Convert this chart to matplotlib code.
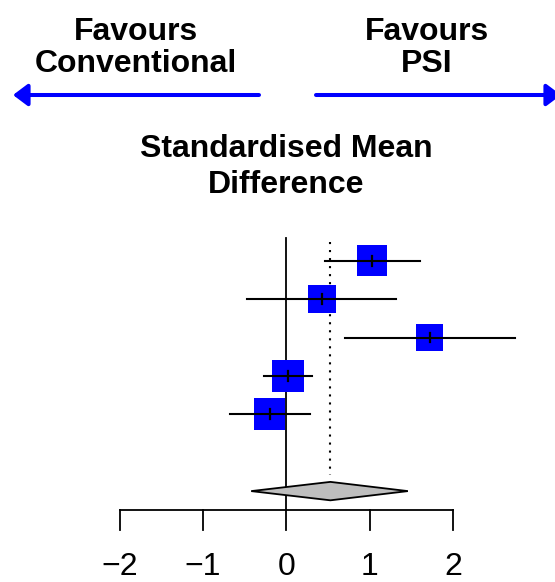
import matplotlib
matplotlib.use("Agg")
import matplotlib.pyplot as plt
import numpy as np

# ---- data ----
smd = [1.03, 0.43, 1.72, 0.02, -0.20]
ci_lo = [0.47, -0.47, 0.71, -0.27, -0.68]
ci_hi = [1.60, 1.32, 2.74, 0.31, 0.28]
weights = [20.9, 17.4, 16.2, 23.2, 22.3]
pooled = 0.53
pooled_lo = -0.42
pooled_hi = 1.46
tick_vals = [-2, -1, 0, 1, 2]
left_label = ["Favours", "Conventional"]
right_label = ["Favours", "PSI"]
title = ["Standardised Mean", "Difference"]

plt.rcParams['font.family'] = ['Liberation Sans', 'DejaVu Sans']

W, H = 555, 582
fig = plt.figure(figsize=(W / 100, H / 100), dpi=100)
ax = fig.add_axes([0, 0, 1, 1])
# x in SMD units, y in row units
x0px, xscale = 286.2, 83.35
y0px, yscale = 260.7, 38.4
ax.set_xlim((0 - x0px) / xscale, (W - x0px) / xscale)
ax.set_ylim((H - y0px) / yscale, (0 - y0px) / yscale)
ax.axis('off')


def px_x(p):
    return (p - x0px) / xscale


def px_y(p):
    return (p - y0px) / yscale


n = len(smd)
rows = np.arange(n)
summary_row = n + 1

# zero line
ax.plot([0, 0], [px_y(238), summary_row + 0.5], color='black', lw=1.3, zorder=1)
# pooled dotted line
ax.plot([pooled, pooled], [px_y(242), summary_row - 0.42], color='black', lw=1.5,
        linestyle=(0, (1, 2.85)), zorder=1)

# squares
wt = np.array(weights)
side_px = np.sqrt(wt / wt.max()) * 32.3
ax.scatter(smd, rows, s=(side_px * 0.72) ** 2, marker='s', color='#0000FF',
           edgecolors='none', zorder=2)
for r, m, lo, hi in zip(rows, smd, ci_lo, ci_hi):
    ax.plot([lo, hi], [r, r], color='black', lw=1.5, zorder=3)
    ax.plot([m, m], [r - 0.13, r + 0.13], color='black', lw=1.6, zorder=3)

# diamond
ax.fill([pooled_lo, pooled, pooled_hi, pooled],
        [summary_row, summary_row - 0.24, summary_row, summary_row + 0.24],
        facecolor='#bebebe', edgecolor='black', lw=1.3, zorder=2)

# x axis
axis_row = summary_row + 0.5
ax.plot([tick_vals[0], tick_vals[-1]], [axis_row, axis_row], color='black', lw=1.3)
for t in tick_vals:
    ax.plot([t, t], [axis_row, axis_row + 0.52], color='black', lw=1.3)
    ax.text(t, px_y(575), f"{t}".replace('-', '\u2212'), ha='center', va='baseline',
            fontsize=23)

# title
for line, base in zip(title, [157, 193]):
    ax.text(px_x(286.5), px_y(base), line, ha='center', va='baseline', fontsize=23,
            fontweight='bold')

# favour labels
for line, base in zip(left_label, [39.5, 71.5]):
    ax.text(px_x(135.5), px_y(base), line, ha='center', va='baseline', fontsize=23,
            fontweight='bold')
for line, base in zip(right_label, [40, 72.5]):
    ax.text(px_x(427), px_y(base), line, ha='center', va='baseline', fontsize=23,
            fontweight='bold')

# arrows
arow = px_y(95)
style = '-|>,head_length=0.4,head_width=0.3'
ax.annotate('', xy=(px_x(13), arow), xytext=(px_x(259), arow),
            arrowprops=dict(arrowstyle=style, color='#0000FF', lw=2.9, mutation_scale=22,
                            shrinkA=0, shrinkB=0, capstyle='round'))
ax.annotate('', xy=(px_x(561), arow), xytext=(px_x(316), arow),
            arrowprops=dict(arrowstyle=style, color='#0000FF', lw=2.9, mutation_scale=22,
                            shrinkA=0, shrinkB=0, capstyle='round'), annotation_clip=False)

fig.savefig('out.png', dpi=100)
